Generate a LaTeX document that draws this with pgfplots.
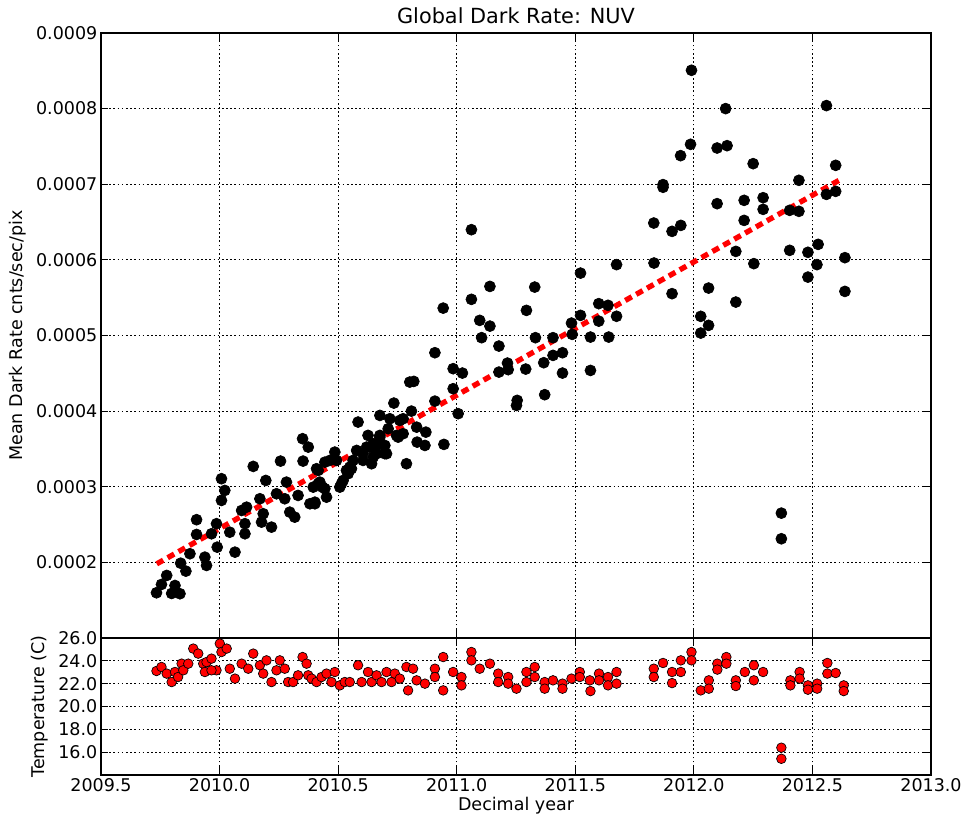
\documentclass[border=0pt]{standalone}
\usepackage{pgfplots}
\pgfplotsset{compat=1.18}
\usepackage{fontspec}
\setmainfont{DejaVu Sans}

\pgfplotstableread{
x y
2009.734 0.0001598
2009.755 0.0001708
2009.777 0.0001827
2009.798 0.0001589
2009.812 0.0001694
2009.833 0.0001585
2009.836 0.0001989
2009.858 0.0001884
2009.875 0.0002114
2009.903 0.0002369
2009.903 0.0002564
2009.938 0.0002069
2009.945 0.0001959
2009.966 0.0002378
2009.987 0.0002511
2009.990 0.0002201
2010.008 0.0003106
2010.022 0.0002951
2010.008 0.0002819
2010.043 0.0002399
2010.065 0.0002135
2010.093 0.0002686
2010.114 0.0002730
2010.107 0.0002511
2010.107 0.0002378
2010.142 0.0003269
2010.170 0.0002841
2010.184 0.0002643
2010.177 0.0002532
2010.195 0.0003083
2010.219 0.0002466
2010.240 0.0002907
2010.257 0.0003339
2010.275 0.0002841
2010.282 0.0003061
2010.296 0.0002664
2010.317 0.0002598
2010.331 0.0002885
2010.352 0.0003339
2010.350 0.0003635
2010.374 0.0003524
2010.381 0.0002775
2010.402 0.0002775
2010.395 0.0002995
2010.416 0.0003216
2010.423 0.0003061
2010.434 0.0002995
2010.451 0.0002862
2010.444 0.0003325
2010.465 0.0003348
2010.486 0.0003458
2010.507 0.0002995
2010.521 0.0003083
2010.535 0.0003216
2010.556 0.0003238
2010.578 0.0003480
2010.584 0.0003855
2010.605 0.0003348
2010.626 0.0003679
2010.634 0.0003524
2010.648 0.0003392
2010.662 0.0003546
2010.676 0.0003943
2010.676 0.0003679
2010.704 0.0003437
2010.711 0.0003767
2010.735 0.0004106
2010.746 0.0003679
2010.760 0.0003877
2010.774 0.0003899
2010.788 0.0003304
2010.809 0.0004000
2010.831 0.0003788
2010.833 0.0003590
2010.866 0.0003546
2010.870 0.0003722
2010.908 0.0004132
2010.946 0.0003560
2010.985 0.0004296
2011.006 0.0003966
2010.802 0.0004384
2010.819 0.0004393
2010.908 0.0004772
2010.985 0.0004561
2011.024 0.0004503
2010.718 0.0003899
2010.676 0.0003656
2010.753 0.0003656
2010.774 0.0003701
2010.549 0.0003259
2010.542 0.0003172
2010.514 0.0003040
2010.563 0.0003348
2010.605 0.0003437
2010.620 0.0003524
2010.648 0.0003569
2010.697 0.0003437
2010.662 0.0003437
2010.641 0.0003304
2010.697 0.0003546
2010.493 0.0003348
2010.444 0.0002974
2010.402 0.0002796
2010.409 0.0003238
2010.416 0.0003040
2011.062 0.0006399
2010.943 0.0005362
2011.140 0.0005649
2011.062 0.0005478
2011.329 0.0005640
2011.294 0.0005332
2011.097 0.0005200
2011.140 0.0005124
2011.105 0.0004971
2011.178 0.0004860
2011.214 0.0004635
2011.178 0.0004516
2011.217 0.0004548
2011.291 0.0004556
2011.255 0.0004142
2011.252 0.0004075
2011.371 0.0004217
2011.332 0.0004971
2011.406 0.0004971
2011.367 0.0004640
2011.406 0.0004737
2011.446 0.0004772
2011.446 0.0004503
2011.484 0.0005164
2011.487 0.0005015
2011.522 0.0005266
2011.522 0.0005825
2011.564 0.0004979
2011.564 0.0004538
2011.599 0.0005421
2011.638 0.0005399
2011.599 0.0005190
2011.641 0.0004979
2011.674 0.0005254
2011.674 0.0005937
2011.990 0.0008507
2012.134 0.0008000
2011.986 0.0007528
2011.944 0.0007378
2012.098 0.0007479
2012.140 0.0007510
2012.250 0.0007272
2011.870 0.0006995
2011.870 0.0006960
2012.098 0.0006743
2012.212 0.0006787
2012.292 0.0006822
2012.292 0.0006668
2012.212 0.0006522
2011.831 0.0006487
2011.908 0.0006377
2011.945 0.0006456
2012.177 0.0006112
2012.253 0.0005950
2011.832 0.0005958
2011.908 0.0005553
2012.062 0.0005627
2012.177 0.0005442
2012.029 0.0005253
2012.062 0.0005134
2012.029 0.0005032
2012.559 0.0008040
2012.598 0.0007250
2012.443 0.0007052
2012.559 0.0006866
2012.598 0.0006906
2012.404 0.0006655
2012.443 0.0006642
2012.404 0.0006126
2012.481 0.0006100
2012.524 0.0006205
2012.519 0.0005937
2012.481 0.0005772
2012.637 0.0006029
2012.637 0.0005583
2012.369 0.0002651
2012.369 0.0002312
}\darkrate

\pgfplotstableread{
x t
2009.734 23.11
2009.755 23.46
2009.777 22.88
2009.798 22.14
2009.812 23.02
2009.825 22.58
2009.840 23.75
2009.847 23.17
2009.868 23.75
2009.889 25.07
2009.910 24.63
2009.931 23.75
2009.938 23.02
2009.945 23.89
2009.966 24.19
2009.987 23.17
2009.966 23.17
2010.001 25.51
2010.008 24.77
2010.030 25.07
2010.043 23.31
2010.065 22.44
2010.093 23.75
2010.121 23.31
2010.142 24.63
2010.170 23.61
2010.184 22.88
2010.198 24.04
2010.219 22.14
2010.240 23.17
2010.254 24.04
2010.275 23.31
2010.289 22.14
2010.310 22.14
2010.331 22.73
2010.350 24.33
2010.367 23.75
2010.374 22.73
2010.388 22.44
2010.409 22.14
2010.430 22.58
2010.451 22.88
2010.472 22.14
2010.486 23.02
2010.507 21.85
2010.528 22.14
2010.549 22.14
2010.584 23.61
2010.599 22.14
2010.626 23.02
2010.641 22.14
2010.662 22.73
2010.683 22.14
2010.704 23.02
2010.725 22.14
2010.739 22.88
2010.760 22.44
2010.788 23.46
2010.795 21.41
2010.816 23.31
2010.831 22.29
2010.866 22.00
2010.908 23.31
2010.908 22.58
2010.943 24.33
2010.943 21.41
2010.985 23.02
2011.020 22.58
2011.020 21.85
2011.062 24.77
2011.062 24.04
2011.097 23.31
2011.140 23.75
2011.175 22.88
2011.175 22.14
2011.217 22.58
2011.217 22.00
2011.252 21.56
2011.294 23.02
2011.294 22.14
2011.329 23.46
2011.329 22.58
2011.371 22.14
2011.371 21.56
2011.406 22.29
2011.446 22.00
2011.446 21.56
2011.484 22.44
2011.519 23.02
2011.519 22.58
2011.561 22.29
2011.564 21.35
2011.600 22.88
2011.600 22.29
2011.638 22.58
2011.638 21.85
2011.674 23.02
2011.674 22.00
2011.831 23.31
2011.831 22.58
2011.870 23.81
2011.908 23.02
2011.908 22.05
2011.945 24.04
2011.945 23.02
2011.990 24.77
2011.990 24.04
2012.029 21.41
2012.063 22.29
2012.063 21.56
2012.099 23.75
2012.099 23.23
2012.137 24.33
2012.137 23.75
2012.177 22.29
2012.177 21.79
2012.215 23.02
2012.253 23.61
2012.253 22.29
2012.292 23.02
2012.369 16.39
2012.369 15.42
2012.407 22.29
2012.407 21.85
2012.446 23.02
2012.446 22.44
2012.481 21.85
2012.481 21.47
2012.520 22.00
2012.520 21.56
2012.563 23.81
2012.563 22.88
2012.598 22.93
2012.632 21.85
2012.632 21.35
}\temps

\pgfplotsset{
  panel/.style={
    scale only axis, width=498pt,
    xmin=2009.5, xmax=2013.0,
    xtick={2009.5,2010.0,2010.5,2011.0,2011.5,2012.0,2012.5,2013.0},
    grid=major,
    major grid style={black, line width=0.5pt, dash pattern=on 1pt off 1.5pt},
    axis line style={black, line width=0.7pt},
    tick style={black, line width=0.7pt},
    major tick length=4.5pt,
    tick align=inside,
    tick pos=both,
    scaled ticks=false,
    /pgf/number format/assume math mode=true,
    ticklabel style={font=\fontsize{10.5}{12}\selectfont},
    label style={font=\fontsize{10.5}{12}\selectfont},
    yticklabel style={inner sep=2pt},
    xticklabel style={inner sep=2pt},
  }
}

\begin{document}
\begin{tikzpicture}
\begin{axis}[panel, name=top,
  height=363pt,
  ymin=0.0001, ymax=0.0009,
  ytick={0.0001,0.0002,0.0003,0.0004,0.0005,0.0006,0.0007,0.0008,0.0009},
  yticklabels={,0.0002,0.0003,0.0004,0.0005,0.0006,0.0007,0.0008,0.0009},
  xticklabels={},
  title={Global Dark Rate: NUV},
  title style={font=\fontsize{12.5}{14}\selectfont, at={(axis description cs:0.5,1)}, anchor=base, yshift=-0.6pt},
  ylabel={Mean Dark Rate cnts/sec/pix},
  ylabel style={at={(axis description cs:-0.1,0.5)}, anchor=center, rotate=0},
]
\addplot[only marks, mark=*, mark size=3.3pt, mark options={fill=black, draw=black}] table[x=x, y=y] {\darkrate};
\addplot[red, line width=3.2pt, dash pattern=on 4.5pt off 3pt, no marks] coordinates {(2009.735,0.000198) (2012.611,0.000705)};
\end{axis}
\begin{axis}[panel, name=bot,
  at={(top.south west)}, anchor=north west,
  height=82.2pt,
  ymin=14, ymax=26,
  ytick={14,16,18,20,22,24,26},
  yticklabels={,16.0,18.0,20.0,22.0,24.0,26.0},
  xticklabels={2009.5,2010.0,2010.5,2011.0,2011.5,2012.0,2012.5,2013.0},
  xlabel={Decimal year},
  xlabel style={at={(axis description cs:0.5,0)}, anchor=base, yshift=-21.6pt},
  ylabel={Temperature (C)},
  ylabel style={at={(axis description cs:-0.0735,0.5)}, anchor=center},
]
\addplot[only marks, mark=*, mark size=2.9pt, mark options={fill=red, draw=black, line width=0.4pt}] table[x=x, y=t] {\temps};
\end{axis}
\pgfresetboundingbox
\path[use as bounding box] ([shift={(-60.6pt,19.8pt)}]top.north west) rectangle ([shift={(21.6pt,-27pt)}]bot.south east);
\end{tikzpicture}
\end{document}
